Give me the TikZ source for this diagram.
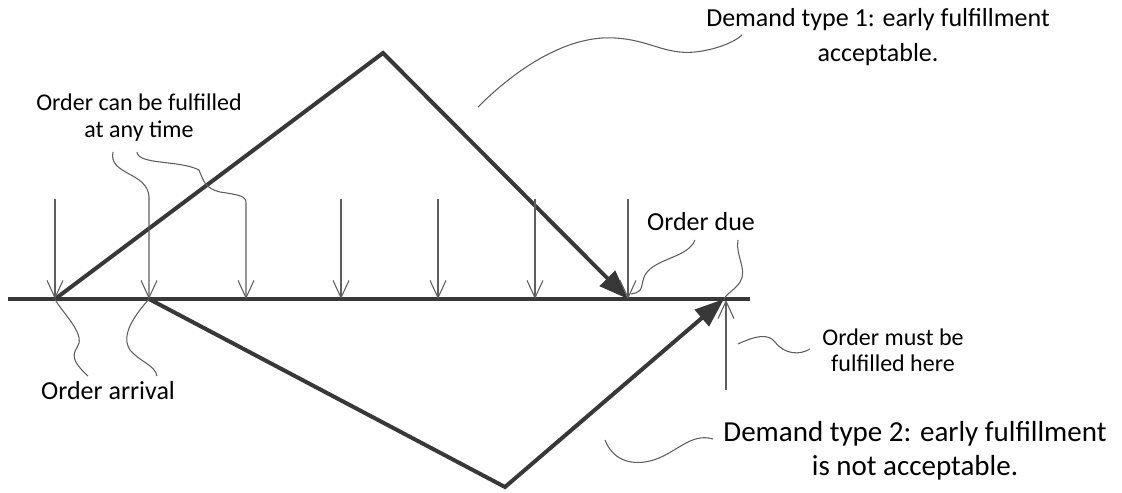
\documentclass[tikz,border=0pt]{standalone}
\usepackage{fontspec}
\setmainfont{Carlito}
\usetikzlibrary{arrows.meta}
\definecolor{ink}{HTML}{383838}
\definecolor{wire}{HTML}{5E5E5E}
\begin{document}
\begin{tikzpicture}[x=0.75pt,y=-0.75pt,
  axis/.style={line width=3pt, draw=ink},
  route/.style={line width=3pt, draw=ink, line join=miter},
  bigtip/.style={-{Triangle[length=22pt,width=16pt]}},
  slot/.style={draw=wire, line width=0.8pt, -{Straight Barb[length=13pt,width=12pt]}},
  leader/.style={draw=wire, line width=0.8pt},
  lbl/.style={inner sep=0pt, align=center, text=black},
  big/.style={font=\fontsize{19.5pt}{26.25pt}\selectfont},
  bigger/.style={font=\fontsize{21.75pt}{25.5pt}\selectfont},
  small/.style={font=\fontsize{18pt}{20.25pt}\selectfont},
  smallish/.style={font=\fontsize{18pt}{19.5pt}\selectfont}]
\useasboundingbox (0,0) rectangle (1122,493);

% key points on the time axis
\coordinate (axL) at (8,299);
\coordinate (axR) at (750,299);
\coordinate (o1) at (55,299);
\coordinate (o2) at (149,299);
\coordinate (apex) at (383,53);
\coordinate (due) at (628,299);
\coordinate (low) at (505,487);
\coordinate (must) at (724,299);

% time axis
\draw[axis] (axL) -- (axR);

% the two demand paths
\draw[route, bigtip] (o1) -- (apex) -- (due);
\draw[route, bigtip] (o2) -- (low) -- (must);

% fulfilment slots along the axis
\foreach \x/\n in {55/a,341/d,438/e,535/f,628/g}{
  \coordinate (top\n) at (\x,199);
  \coordinate (bot\n) at (\x,299);
  \draw[slot] (top\n) -- (bot\n);
}
\coordinate (botb) at (149,299);
\coordinate (botc) at (246,299);

% labels
\node[lbl, big]      (t1)   at (878,37)  {Demand type 1: early fulfillment\\acceptable.};
\node[lbl, bigger]   (t2)   at (915,451) {Demand type 2: early fulfillment\\is not acceptable.};
\node[lbl, small]    (any)  at (139,118) {Order can be fulfilled\\at any time};
\node[lbl, big]      (arr)  at (108,391) {Order arrival};
\node[lbl, big]      (odue) at (701,222) {Order due};
\node[lbl, smallish] (here) at (893,350) {Order must be\\fulfilled here};

% leader start points
\coordinate (anyA) at (113,152);
\coordinate (anyB) at (137,152);
\coordinate (arrA) at (88,376);
\coordinate (arrB) at (157,376);
\coordinate (dueA) at (695,240);
\coordinate (dueB) at (738,240);
\coordinate (hereA) at (810,349);
\coordinate (t1A) at (742,35);
\coordinate (t2A) at (713,439);

% leaders that run into slot arrows
\draw[slot] (anyA) .. controls (108,175) and (148,172) .. (149,197) -- (botb);
\draw[slot] (anyB) .. controls (138,165) and (180,160) .. (199,170)
  .. controls (204,182) and (205,188) .. (220,192)
  .. controls (240,195) and (246,196) .. (246,203) -- (botc);

% must-be-fulfilled arrow from below
\coordinate (mustlow) at (726,390);
\draw[slot] (mustlow) -- (726,300);

% leaders
\draw[leader] (o1) .. controls (60,310) and (82,330) .. (79,343)
  .. controls (76,352) and (66,356) .. (arrA);
\draw[leader] (o2) .. controls (135,315) and (120,335) .. (130,350)
  .. controls (140,362) and (155,365) .. (arrB);
\draw[leader] (dueA) .. controls (688,258) and (655,258) .. (645,275)
  .. controls (640,285) and (645,292) .. (631,294);
\draw[leader] (dueB) .. controls (735,255) and (748,270) .. (740,282)
  .. controls (735,290) and (728,292) .. (must);
\draw[leader] (738,344) .. controls (755,336) and (768,333) .. (775,342)
  .. controls (785,355) and (800,355) .. (hereA);
\draw[leader] (605,440) .. controls (612,458) and (628,466) .. (650,461)
  .. controls (675,455) and (690,432) .. (t2A);
\draw[leader] (478,107) .. controls (520,65) and (570,35) .. (615,38)
  .. controls (650,40) and (665,55) .. (695,52)
  .. controls (715,50) and (735,42) .. (t1A);
\end{tikzpicture}
\end{document}
